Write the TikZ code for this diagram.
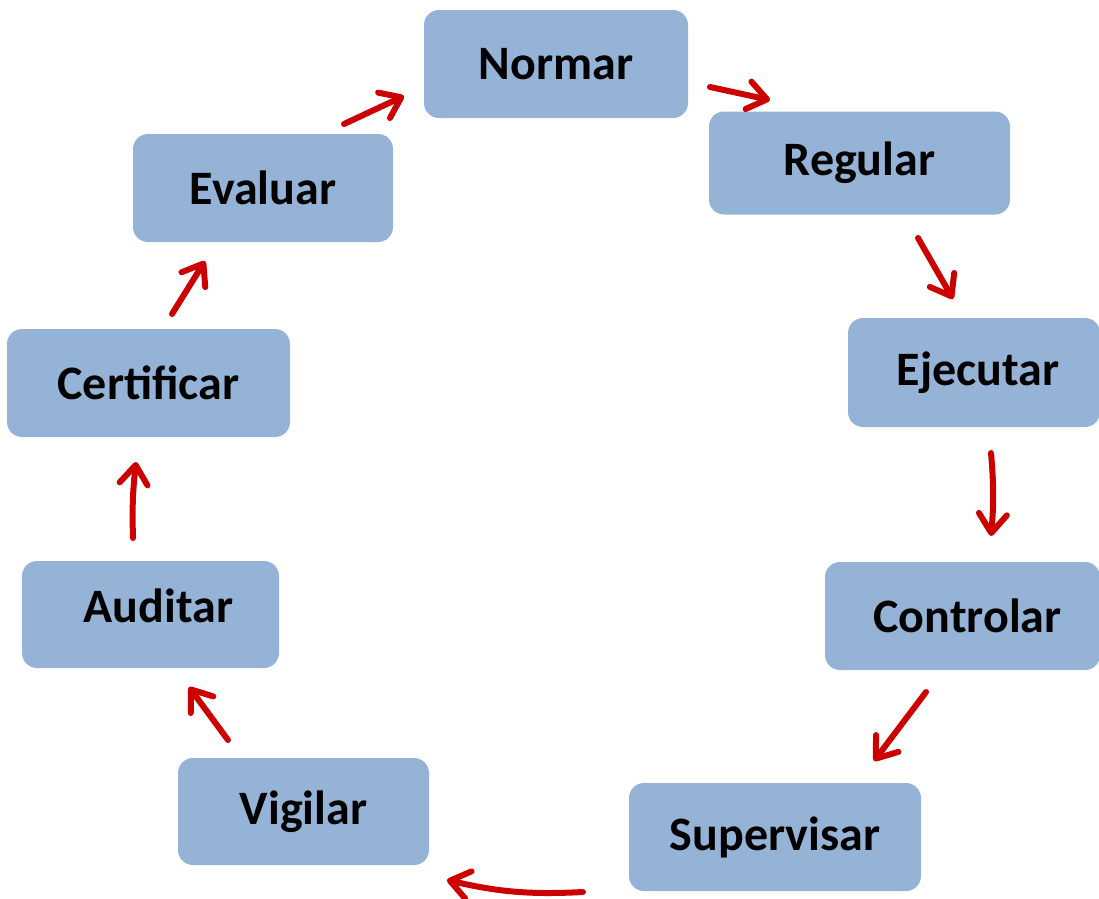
\documentclass[tikz,border=0pt]{standalone}
\usepackage{fontspec}
\setmainfont{Carlito}
\usetikzlibrary{arrows.meta}
\definecolor{boxblue}{RGB}{149,179,215}
\definecolor{arrowred}{RGB}{204,0,0}
\tikzset{
  stepbox/.style={rectangle, rounded corners=15pt, fill=boxblue, inner sep=0pt},
  steptext/.style={inner sep=0pt, font=\fontsize{48}{54}\selectfont\bfseries, text=black},
  flow/.style={arrowred, line width=6pt, line cap=round,
    -{Straight Barb[length=19pt,width=28pt,line cap=round,line join=round]}}
}
\begin{document}
\begin{tikzpicture}[x=1pt,y=-1pt]
\useasboundingbox (0,0) rectangle (1099,898);
\node[stepbox, minimum width=264pt, minimum height=108pt] (normar) at (556,64) {};
\node[stepbox, minimum width=301pt, minimum height=103pt] (regular) at (859.5,163) {};
\node[stepbox, minimum width=252pt, minimum height=109pt] (ejecutar) at (974,372.5) {};
\node[stepbox, minimum width=275pt, minimum height=108pt] (controlar) at (962.5,616) {};
\node[stepbox, minimum width=292pt, minimum height=108pt] (supervisar) at (775,837) {};
\node[stepbox, minimum width=251pt, minimum height=107pt] (vigilar) at (303.5,811.5) {};
\node[stepbox, minimum width=257pt, minimum height=107pt] (auditar) at (150.5,614.5) {};
\node[stepbox, minimum width=283pt, minimum height=108pt] (certificar) at (148.5,383) {};
\node[stepbox, minimum width=260pt, minimum height=108pt] (evaluar) at (263,188) {};
% texts
\node[steptext] (normar-t) at (normar.center) {Normar};
\node[steptext] (regular-t) at (regular.center) {Regular};
\node[steptext] (ejecutar-t) at ([shift={(4,0)}]ejecutar.center) {Ejecutar};
\node[steptext] (controlar-t) at ([shift={(5,0)}]controlar.center) {Controlar};
\node[steptext] (supervisar-t) at (supervisar.center) {Supervisar};
\node[steptext] (vigilar-t) at (vigilar.center) {Vigilar};
\node[steptext] (auditar-t) at ([shift={(8,-9)}]auditar.center) {Auditar};
\node[steptext] (certificar-t) at (certificar.center) {Certificar};
\node[steptext] (evaluar-t) at (evaluar.center) {Evaluar};
% arrow end points
\coordinate (a1s) at (344,124); \coordinate (a1e) at (404,96);
\coordinate (a2s) at (710,87);  \coordinate (a2e) at (770,100);
\coordinate (a3s) at (918,238); \coordinate (a3e) at (953,299);
\coordinate (a4s) at (991,453); \coordinate (a4e) at (991,536);
\coordinate (a5s) at (926,692); \coordinate (a5e) at (874,761);
\coordinate (a6s) at (583,892); \coordinate (a6e) at (447,880);
\coordinate (a7s) at (228,740); \coordinate (a7e) at (189,687);
\coordinate (a8s) at (133,538); \coordinate (a8e) at (136,462);
\coordinate (a9s) at (172,314); \coordinate (a9e) at (205,261);
\draw[flow] (a1s) -- (a1e);
\draw[flow] (a2s) -- (a2e);
\draw[flow] (a3s) -- (a3e);
\draw[flow] (a4s) to[bend left=5] (a4e);
\draw[flow] (a5s) -- (a5e);
\draw[flow] (a6s) to[bend left=8] (a6e);
\draw[flow] (a7s) -- (a7e);
\draw[flow] (a8s) to[bend left=4] (a8e);
\draw[flow] (a9s) -- (a9e);
\end{tikzpicture}
\end{document}
